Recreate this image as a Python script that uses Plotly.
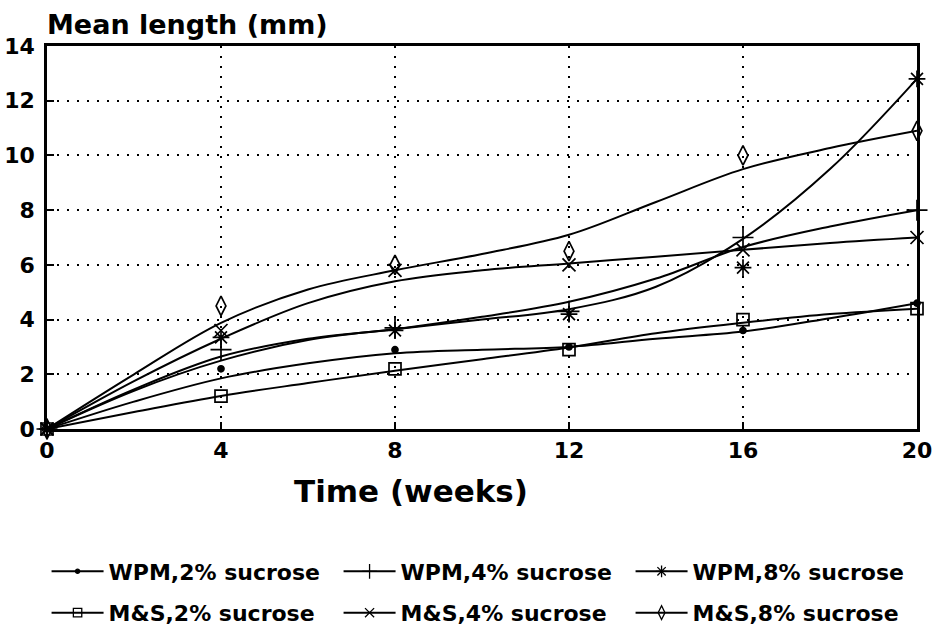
import plotly.graph_objects as go

# ---- data ----
weeks = [0, 4, 8, 12, 16, 20]
fit_weeks = [0, 2, 4, 6, 8, 10, 12, 14, 16, 18, 20]

series_names = ["WPM,2% sucrose", "WPM,4% sucrose", "WPM,8% sucrose",
                "M&S,2% sucrose", "M&S,4% sucrose", "M&S,8% sucrose"]

# observed means (markers)
wpm2_obs = [0, 2.2, 2.9, 3.0, 3.6, 4.6]
wpm4_obs = [0, 2.9, 3.7, 4.3, 7.0, 8.0]
wpm8_obs = [0, 3.35, 3.6, 4.2, 5.9, 12.8]
ms2_obs = [0, 1.2, 2.2, 2.9, 4.0, 4.4]
ms4_obs = [0, 3.6, 5.8, 6.0, 6.55, 7.0]
ms8_obs = [0, 4.5, 6.0, 6.5, 10.0, 10.9]

# fitted curves (lines)
wpm2_fit = [0, 1.0, 1.85, 2.4, 2.77, 2.9, 3.0, 3.3, 3.56, 4.05, 4.6]
wpm4_fit = [0, 1.45, 2.65, 3.3, 3.65, 4.1, 4.65, 5.5, 6.65, 7.4, 8.0]
wpm8_fit = [0, 1.4, 2.5, 3.25, 3.65, 4.0, 4.38, 5.2, 6.95, 9.5, 12.8]
ms2_fit = [0, 0.62, 1.21, 1.68, 2.13, 2.55, 2.98, 3.5, 3.88, 4.2, 4.4]
ms4_fit = [0, 1.75, 3.3, 4.6, 5.4, 5.8, 6.05, 6.3, 6.55, 6.8, 7.0]
ms8_fit = [0, 2.0, 3.88, 5.1, 5.8, 6.4, 7.1, 8.3, 9.5, 10.27, 10.9]

x_ticks = [0, 4, 8, 12, 16, 20]
y_ticks = [0, 2, 4, 6, 8, 10, 12, 14]

obs = [wpm2_obs, wpm4_obs, wpm8_obs, ms2_obs, ms4_obs, ms8_obs]
fits = [wpm2_fit, wpm4_fit, wpm8_fit, ms2_fit, ms4_fit, ms8_fit]

# ---- styles ----
symbols = ["circle", "cross-thin", "asterisk-open", "square-open", "x-thin-open", "diamond-tall-open"]
sizes = [6, 15, 14, 12, 13, 14]
FONT = "DejaVu Sans"

fig = go.Figure()

for i, name in enumerate(series_names):
    # fitted curve
    fig.add_trace(go.Scatter(
        x=fit_weeks, y=fits[i], mode="lines",
        line=dict(color="black", width=2, shape="spline", smoothing=1.0),
        showlegend=False, hoverinfo="skip"))
    # observed markers
    fig.add_trace(go.Scatter(
        x=weeks, y=obs[i], mode="markers",
        marker=dict(symbol=symbols[i], size=sizes[i], color="black",
                    line=dict(color="black", width=1.7)),
        showlegend=False, name=name, cliponaxis=False))
    # legend entry
    fig.add_trace(go.Scatter(
        x=[None], y=[None], mode="lines+markers", name=name,
        line=dict(color="black", width=2),
        marker=dict(symbol=symbols[i], size=sizes[i] * 0.7, color="black",
                    line=dict(color="black", width=1.3)),
        legend="legend" if i < 3 else "legend2"))

axis_common = dict(
    showline=True, linecolor="black", linewidth=2.5, mirror=True,
    ticks="inside", ticklen=7, tickwidth=2, tickcolor="black",
    showgrid=True, gridcolor="black", gridwidth=1.6, griddash="2px,8px",
    zeroline=False, automargin=False,
    tickfont=dict(family=FONT, size=22, color="black", weight="bold"),
)

fig.update_xaxes(range=[0, 20], tickvals=x_ticks, ticklabelstandoff=0, **axis_common)
fig.update_yaxes(range=[0, 14], tickvals=y_ticks, ticklabelstandoff=5, **axis_common)

legend_common = dict(
    orientation="h", xanchor="left", yanchor="middle",
    font=dict(family=FONT, size=22, color="black", weight="bold"),
    bgcolor="rgba(0,0,0,0)", entrywidth=225, itemwidth=52,
)

fig.update_layout(
    width=939, height=631,
    margin=dict(l=47, r=22, t=46, b=202, autoexpand=False),
    plot_bgcolor="white", paper_bgcolor="white",
    legend=dict(x=-0.0005, y=-0.372, **legend_common),
    legend2=dict(x=-0.0005, y=-0.48, **legend_common),
    annotations=[
        dict(text="Mean length (mm)", xref="paper", yref="paper", x=-0.002, y=1,
             xanchor="left", yanchor="bottom", yshift=4, showarrow=False,
             font=dict(family=FONT, size=27, color="black", weight="bold")),
        dict(text="Time (weeks)", xref="paper", yref="paper", x=0.418, y=0,
             xanchor="center", yanchor="top", yshift=-42, showarrow=False,
             font=dict(family=FONT, size=31, color="black", weight="bold")),
    ],
)

fig.write_html("out.html", config={"displayModeBar": False},
               post_script="document.body.style.margin='0px';")
